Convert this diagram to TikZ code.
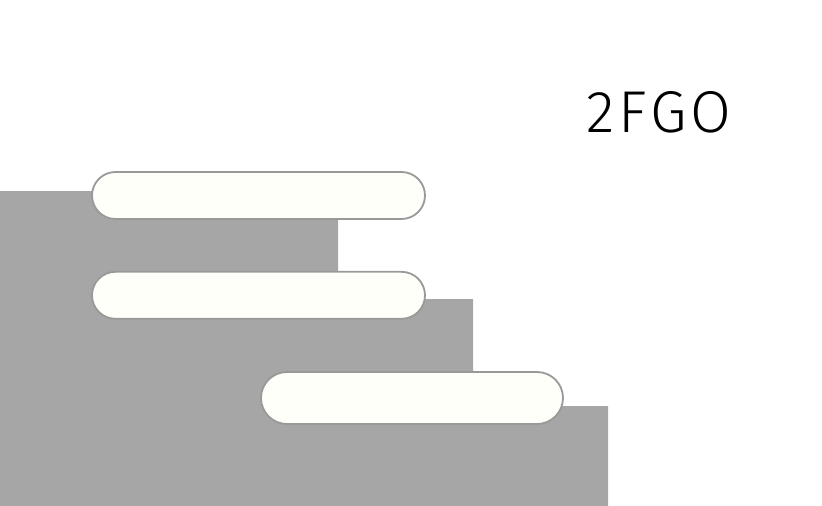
\documentclass[tikz,border=0pt]{standalone}
\usepackage{fontspec}
\setmainfont{Fira Sans}
\newfontfamily\titlefont[LetterSpace=7]{Fira Sans Light}
\usepackage{tikz}
\usetikzlibrary{positioning}
\definecolor{stepgray}{HTML}{A6A6A6}
\definecolor{pillfill}{HTML}{FFFFFA}
\definecolor{pillline}{HTML}{999999}
\tikzstyle{pill} = [
    rectangle,
    rounded corners=23.5pt,
    minimum width=333pt,
    minimum height=47pt,
    draw=pillline,
    line width=1.8pt,
    fill=pillfill
]
\tikzstyle{widepill} = [
    pill,
    rounded corners=26pt,
    minimum width=302pt,
    minimum height=52pt
]
\tikzstyle{label} = [
    font=\titlefont\fontsize{59}{62}\selectfont,
    inner sep=0pt
]
\begin{document}
\begin{tikzpicture}[x=1pt, y=-1pt]

\useasboundingbox (0,0) rectangle (822,506);

\fill [stepgray] (0,191) -- (338,191) -- (338,299) -- (473,299)
    -- (473,406) -- (608,406) -- (608,506) -- (0,506) -- cycle;

\node (bar1) [pill] at (258.5,195.5) {};

\node (bar2) [pill, below=51pt of bar1] {};

\node (bar3) [widepill] at (412,398) {};

\node (title) [label, anchor=base] at (659,132) {2FGO};

\end{tikzpicture}
\end{document}
